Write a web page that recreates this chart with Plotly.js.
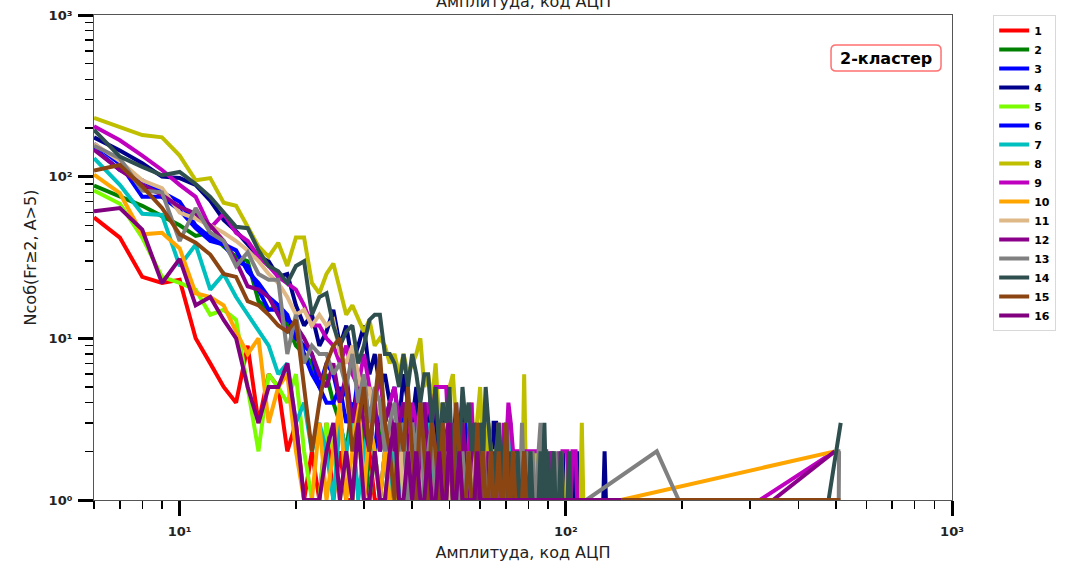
<!DOCTYPE html>
<html><head><meta charset="utf-8">
<script src="https://cdn.plot.ly/plotly-3.0.1.min.js"></script>
<style>html,body{margin:0;padding:0;background:#fff}#chart{width:1071px;height:563px}</style>
</head><body><div id="chart"></div>
<script>
// Amplitude (ADC code) bins
const AMP = [6,7,8,9,10,11,12,13,14,15,16,17,18,19,20,21,22,23,24,25,26,27,28,29,30,31,32,33,34,35,36,37,38,39,40,41,42,43,44,45,46,47,48,49,50,51,52,53,54,55,56,57,58,59,60,61,62,63,64,65,66,67,68,69,70,71,72,73,74,75,76,77,78,79,80,81,82,83,84,85,86,87,88,89,90,91,92,93,94,95,96,97,98,99,100,101,102,103,104,105,106,107,108,109,110];

// Counts per cluster (aligned with AMP from its start)
const n1 = [56,42,24,22,23,10,7,5,4,9,3,6,5,2,3,1,2,1,3,1, 2,1,1,3,1,2,1,1,2,1, 1,2,1,1,3,1,1,2,1,1, 1,1,2,1,1,1,2,1,1,1, 1,2,1,1,1,1,2,1,1,1, 1,1,1,2,1,1,1,1,2,1, 1,1,1,1,2,1,1,1,1,1, 1,1,2,1,1,1,1,1,1,1, 1,1,1,1,1,2];
const n2 = [88,76,66,57,50,43,45,37,32,30,17,15,16,12,9,8,7,5,6,4, 3,2,4,2,3,1,2,3,2,1, 2,3,1,2,1,2,1,1,3,1, 2,1,1,2,1,1,1,2,1,1, 1,2,1,1,1,1,1,2,1,1, 1,1,2,1,1,1,1,1,1,1];
const n3 = [160,120,75,75,62,48,40,38,30,28,20,15,15,13,12,8,6,5,7,6, 4,5,3,6,4,3,2,4,3,2, 3,2,4,2,3,2,1,3,2,4, 2,1,3,2,1,2,4,1,2,3, 1,2,1,3,2,1,1,2,1,1, 2,1,1,1,2,1,1,1,1,1];
const n4 = [175,145,121,100,98,89,71,54,46,38,32,30,24,25,16,12,14,9,11,15, 9,12,7,9,12,6,8,5,6,4, 5,3,6,4,3,5,2,4,3,5, 3,2,4,2,3,1,2,3,4,2, 1,3,2,1,2,3,1,2,1,3, 3,1,2,1,1,2,1,1,2,1, 1,1,2,1,1,1,2,1,1,1, 1,2,1,1,1,1,2,1,1,1, 1,1,1,2,1,1,1,1,2,1, 1,2,1,1,1];
const n5 = [82,68,42,24,22,20,14,15,13,5,2,6,5,4,6,2,1,1,3,2, 1,2,1,3,1,1,2,1,1,2, 1,1,2,1,3,1,1,1,2,1, 1,1,2,1,1,1,1,1,2,1, 1,1,1,1,1];
const n6 = [150,110,95,80,70,50,42,38,35,26,22,18,16,14,10,9,8,5,4,4, 5,3,4,2,5,3,4,2,3,4, 2,3,1,4,2,3,2,1,3,2, 1,2,1,3,1,2,3,1,1,2, 1,1,2,1,1,3,1,1,2,1, 1,1,1,2,1,1,1,1,1,1];
const n7 = [130,89,59,58,28,38,20,25,18,14,11,9,6,7,3,4,2,3,2,1, 3,2,3,1,2,3,2,1,2,1, 2,1,3,2,1,2,1,2,3,1, 2,1,1,2,3,1,2,1,1,2, 1,1,2,1,1,1,2,1,1,1, 1,2,1,1,1,1,3,1,1,1];
const n8 = [231,203,181,175,135,95,98,69,66,49,37,32,39,28,42,42,22,19,25,29, 20,14,16,13,11,13,9,10,9,7, 8,6,8,6,7,8,10,5,6,4, 7,3,4,3,5,6,3,2,3,1, 2,4,2,3,5,2,1,3,2,2, 1,3,1,2,1,2,1,1,2,1, 2,1,6,1,2,1,1,2,1,1, 2,1,1,1,2,1,1,1,1,1, 1,1,1,1,1,2,1,1,1,1, 1,1,1,1,3];
const n9 = [205,168,135,110,89,75,48,59,45,40,32,28,24,22,20,16,12,12,10,9, 7,9,6,5,8,5,4,6,3,4, 5,3,4,2,4,3,2,3,4,3, 5,5,5,5,2,3,1,2,3,1, 2,4,1,2,1,3,1,2,1,1, 2,1,1,3,2,4,3,2,2,2, 2,2,2,2,2,2,2,2,2,2, 2,2,2,2,1,1,2,1,1,1, 2,1,2,2,2,2,1,1,2,2, 2,1,1,1,1];
const n10 = [103,79,44,45,36,19,18,16,11,8,10,3,5,6,2,1,1,3,1,2, 4,1,2,5,1,3,2,1,2,1, 1,3,1,2,1,1,2,1,2,1, 1,2,1,1,1,2,1,1,1,1, 2,1,1,1,1,1,1,2,1,1];
const n11 = [160,125,95,85,60,55,50,45,40,35,30,25,22,18,14,15,12,14,12,13, 8,7,9,6,4,5,3,4,2,3, 2,3,1,2,3,1,2,1,2,1, 1,2,1,3,1,1,2,1,1,2, 1,1,2,1,1,1,1,2,1,1];
const n12 = [147,110,89,77,65,59,50,40,30,21,20,18,14,11,12,10,8,6,5,7, 4,6,3,5,3,2,4,2,3,4, 2,3,4,2,3,1,2,4,2,3, 2,1,3,2,4,1,2,1,3,2, 1,2,3,1,2,1,1,2,1,2, 1,3,1,1,2,1,1,1,1,2, 1,1,1,2,1,1,1,1,1,1];
const n13 = [155,130,82,80,40,64,45,40,28,34,25,23,23,8,14,7,9,8,8,6, 7,5,8,4,6,3,5,4,2,3, 4,2,3,1,3,2,4,1,2,3, 1,2,3,1,2,1,3,1,2,1, 2,1,1,2,1,3,1,1,2,1, 1,2,1,1,3,1,1,2,1,1, 1,3,1,2,1,1,2,1,1,2, 3,1,1,2,1,1,1,1,2,1, 1,2,1,1,1,1,1,1,1,1];
const n14 = [195,133,115,102,107,90,75,60,49,48,35,28,26,22,28,30,14,18,19,12, 9,11,12,7,9,13,14,14,8,8, 7,5,8,5,8,6,4,6,6,3, 5,2,4,3,5,1,3,2,5,3, 4,2,3,1,3,2,5,3,2,1, 2,3,1,2,3,1,2,1,1,2, 1,1,2,1,1,2,1,1,1,1, 2,1,3,1,2,1,1,2,1,1, 1,2,1,1,1,1,2,1,1,1];
const n15 = [109,118,87,64,44,39,33,25,24,17,16,14,12,11,13,5,2,4,7,9, 10,5,2,3,5,2,4,8,3,2, 1,3,2,5,2,1,4,2,1,3, 2,1,3,1,2,1,4,2,1,1, 2,1,1,3,1,2,1,1,2,1, 1,2,1,1,3,1,1,2,1,1, 1,1,2,1,1,1,1,1,1,1, 1,1,1,1,1,1,1,1,1,1, 1,1,1,1,1,1,1,1,1,1, 1,1,1,1,1];
const n16 = [61,64,47,22,31,16,18,13,10,5,3,5,5,7,3,1,1,1,2,3, 1,2,1,3,1,1,2,1,1,2, 3,1,1,2,1,2,1,1,2,1, 1,2,1,1,3,1,1,2,1,1, 1,1,1,2,1,1,1,1,1,1];

// Sparse high-amplitude tails (amplitude, count)
const tail4x = [125,126,127],  tail4y = [1,2,1];
const tail8x = [111],          tail8y = [1];
const tail9x = [318,497],      tail9y = [1,2];
const tail10x = [139,497],     tail10y = [1,2];
const tail12x = [344,497],     tail12y = [1,2];
const tail13x = [113,172,196,509,510,514], tail13y = [1,2,1,1,2,2];
const tail14x = [479,515],     tail14y = [1,3];
const tail15x = [514],         tail15y = [1];
const tail16x = [139],         tail16y = [1];

const names = ['1','2','3','4','5','6','7','8','9','10','11','12','13','14','15','16'];
const colors = ['#FF0000','#008000','#0000FF','#00008B','#7CFC00','#0000FF','#00BFBF','#BFBF00','#BF00BF','#FFA500','#DEB887','#8B008B','#808080','#2F4F4F','#8B4513','#800080'];

const counts = [n1,n2,n3,n4,n5,n6,n7,n8,n9,n10,n11,n12,n13,n14,n15,n16];
const tails = {4:[tail4x,tail4y],8:[tail8x,tail8y],9:[tail9x,tail9y],10:[tail10x,tail10y],12:[tail12x,tail12y],13:[tail13x,tail13y],14:[tail14x,tail14y],15:[tail15x,tail15y],16:[tail16x,tail16y]};

const traces = counts.map((c, i) => {
  let x = AMP.slice(0, c.length);
  let y = c.slice();
  const t = tails[i+1];
  if (t) { x = x.concat(t[0]); y = y.concat(t[1]); }
  return {x: x, y: y, type: 'scatter', mode: 'lines', name: names[i],
          line: {color: colors[i], width: 4}};
});

const xMinor = [6,7,8,9,20,30,40,50,60,70,80,90,200,300,400,500,600,700,800,900];
const yMinor = [2,3,4,5,6,7,8,9,20,30,40,50,60,70,80,90,200,300,400,500,600,700,800,900];

const layout = {
  width: 1071, height: 563,
  margin: {l: 94, r: 119, t: 15, b: 63},
  paper_bgcolor: '#fff', plot_bgcolor: '#fff',
  font: {family: 'DejaVu Sans', color: '#000'},
  showlegend: true,
  legend: {x: 1.048, y: 1.0, xanchor: 'left', yanchor: 'top', bordercolor: '#d8d8d8', borderwidth: 1,
           font: {size: 11, weight: 'bold', color: '#000'}, bgcolor: '#fff'},
  xaxis: {type: 'log', range: [Math.log10(6), 3], tickmode: 'array', tickvals: [10,100,1000],
          ticktext: ['10¹','10²','10³'], ticks: 'outside', ticklen: 15, tickwidth: 3, tickcolor: '#000',
          minor: {tickmode: 'array', tickvals: xMinor, ticks: 'outside', ticklen: 8, tickwidth: 1.5, tickcolor: '#000', showgrid: false},
          showline: true, linecolor: '#555', linewidth: 1, mirror: true, showgrid: false, zeroline: false,
          ticklabelstandoff: 4,
          tickfont: {size: 13, weight: 'bold', color: '#222'},
          title: {text: 'Амплитуда, код АЦП', font: {size: 16, color: '#222'}, standoff: 9}},
  yaxis: {type: 'log', range: [0, 3], tickmode: 'array', tickvals: [1,10,100,1000],
          ticktext: ['10⁰','10¹','10²','10³'], ticks: 'outside', ticklen: 15, tickwidth: 3, tickcolor: '#000',
          minor: {tickmode: 'array', tickvals: yMinor, ticks: 'outside', ticklen: 8, tickwidth: 1.5, tickcolor: '#000', showgrid: false},
          showline: true, linecolor: '#555', linewidth: 1, mirror: true, showgrid: false, zeroline: false,
          ticklabelstandoff: 3,
          tickfont: {size: 13, weight: 'bold', color: '#222'},
          title: {text: 'Nсоб(Fr≥2, A>5)', font: {size: 16, color: '#222'}, standoff: 8}},
  shapes: [
    {type: 'path', xref: 'paper', yref: 'paper', xsizemode: 'pixel', ysizemode: 'pixel',
     xanchor: 0.9231, yanchor: 0.9113,
     path: 'M -50,-13 L 50,-13 Q 55,-13 55,-8 L 55,8 Q 55,13 50,13 L -50,13 Q -55,13 -55,8 L -55,-8 Q -55,-13 -50,-13 Z',
     fillcolor: '#fff', line: {color: '#FF7070', width: 1.5}, layer: 'above'}
  ],
  annotations: [
    {text: '2-кластер', xref: 'paper', yref: 'paper', x: 0.9231, y: 0.9113, xanchor: 'center', yanchor: 'middle',
     showarrow: false, font: {size: 16, weight: 'bold', color: '#000'}},
    {text: 'Амплитуда, код АЦП', xref: 'paper', yref: 'paper', x: 0.5, y: 1, yanchor: 'middle', yshift: 14,
     showarrow: false, font: {size: 16, color: '#222'}}
  ]
};

Plotly.newPlot('chart', traces, layout, {displayModeBar: false, staticPlot: true});
</script>
</body></html>
